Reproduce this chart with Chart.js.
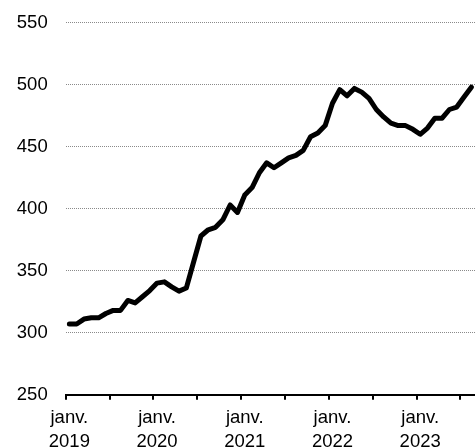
<!DOCTYPE html>
<html>
<head>
<meta charset="utf-8">
<script src="https://cdn.jsdelivr.net/npm/chart.js@4/dist/chart.umd.min.js"></script>
<style>
  html, body { margin: 0; padding: 0; background: #fff; }
  #wrap { width: 475px; height: 447px; }
</style>
</head>
<body>
<div id="wrap"><canvas id="c" width="475" height="447"></canvas></div>
<script>
// Categories: monthly, Jan 2019 – Aug 2023
const years = ['2019', '2020', '2021', '2022', '2023'];
const monthNames = ['janv.', 'févr.', 'mars', 'avr.', 'mai', 'juin', 'juil.', 'août', 'sept.', 'oct.', 'nov.', 'déc.'];

// Series values per year
const values2019 = [307, 307, 311, 312, 312, 315.5, 318, 318, 326, 324, 329, 334];
const values2020 = [340, 341, 337, 333.5, 336, 357, 378, 383, 385, 391, 403, 397];
const values2021 = [411, 417, 429, 437, 433, 437, 441, 443, 447, 458, 461, 467];
const values2022 = [485, 496, 491, 497, 494, 489, 480, 474, 469, 467, 467, 464];
const values2023 = [460, 465, 473, 473, 480, 482, 490, 498];

// Y axis tick range
const yTicks = [250, 300, 350, 400, 450, 500, 550];

const seriesByYear = [values2019, values2020, values2021, values2022, values2023];
const categories = [];
const values = [];
seriesByYear.forEach((arr, yi) => {
  arr.forEach((v, mi) => {
    categories.push(monthNames[mi] + ' ' + years[yi]);
    values.push(v);
  });
});

const FONT = { family: '"Liberation Sans", Arial, sans-serif', size: 18.5, lineHeight: 1.26 };

const chart = new Chart(document.getElementById('c'), {
  type: 'line',
  data: {
    labels: categories,
    datasets: [{
      data: values,
      borderColor: '#000',
      borderWidth: 5,
      borderCapStyle: 'round',
      borderJoinStyle: 'round',
      pointRadius: 0,
      pointHoverRadius: 0,
      pointBorderWidth: 0,
      tension: 0,
      fill: false
    }]
  },
  options: {
    responsive: false,
    animation: false,
    layout: { autoPadding: false, padding: { top: 22.7, right: 0, left: 0, bottom: 0 } },
    plugins: { legend: { display: false }, tooltip: { enabled: false } },
    scales: {
      x: {
        type: 'category',
        offset: true,
        afterFit: (s) => { s.height = 52.3; s.paddingLeft = 0; s.paddingRight = 0; },
        grid: {
          offset: true,
          drawOnChartArea: false,
          drawTicks: true,
          tickLength: 5,
          lineWidth: 2,
          tickWidth: 2,
          color: (ctx) => (ctx.index !== undefined && ctx.index % 6 === 0) ? '#000' : 'rgba(0,0,0,0)',
          tickColor: (ctx) => (ctx.index !== undefined && ctx.index % 6 === 0) ? '#000' : 'rgba(0,0,0,0)'
        },
        border: { display: true, color: '#000', width: 2 },
        ticks: {
          autoSkip: false,
          maxRotation: 0,
          minRotation: 0,
          padding: 7,
          color: '#000',
          font: FONT,
          callback: function (value, index) {
            if (index % 12 === 0) {
              const parts = categories[index].split(' ');
              return [parts[0], parts[1]];
            }
            return '';
          }
        }
      },
      y: {
        min: yTicks[0],
        max: yTicks[yTicks.length - 1],
        afterFit: (s) => { s.width = 65.7; s.paddingTop = 0; s.paddingBottom = 0; },
        afterBuildTicks: (s) => { s.ticks = yTicks.map(v => ({ value: v })); },
        grid: {
          drawTicks: false,
          lineWidth: 1,
          color: (ctx) => (ctx.tick && ctx.tick.value === yTicks[0]) ? 'rgba(0,0,0,0)' : '#8a8a8a'
        },
        border: { display: false, dash: [1, 1] },
        ticks: {
          padding: 18,
          color: '#000',
          font: FONT
        }
      }
    }
  }
});
</script>
</body>
</html>
